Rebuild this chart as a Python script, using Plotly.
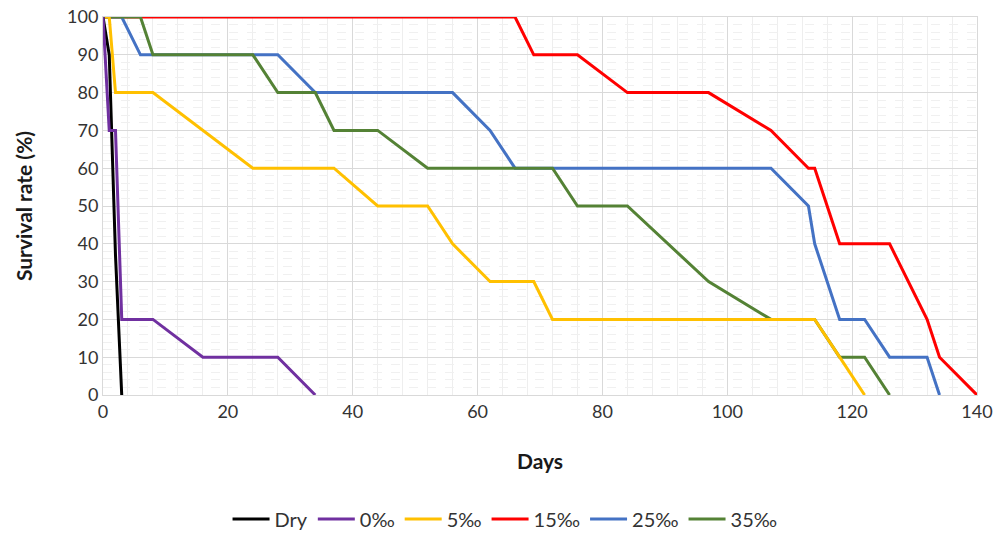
import plotly.graph_objects as go

# Data (days, survival %)
dry_days = [0, 1, 2, 3]
dry_vals = [100, 90, 37, 0]

s0_days = [0, 1, 2, 3, 8, 16, 28, 34]
s0_vals = [100, 70, 70, 20, 20, 10, 10, 0]

s5_days = [0, 1, 2, 8, 24, 37, 44, 52, 56, 62, 69, 72, 107, 114, 118, 122]
s5_vals = [100, 100, 80, 80, 60, 60, 50, 50, 40, 30, 30, 20, 20, 20, 10, 0]

s15_days = [0, 66, 69, 76, 84, 97, 107, 113, 114, 118, 126, 132, 134, 140]
s15_vals = [100, 100, 90, 90, 80, 80, 70, 60, 60, 40, 40, 20, 10, 0]

s25_days = [0, 3, 6, 28, 34, 56, 62, 66, 107, 113, 114, 118, 122, 126, 132, 134]
s25_vals = [100, 100, 90, 90, 80, 80, 70, 60, 60, 50, 40, 20, 20, 10, 10, 0]

s35_days = [0, 6, 8, 24, 28, 34, 37, 44, 52, 72, 76, 84, 97, 107, 114, 118, 122, 126]
s35_vals = [100, 100, 90, 90, 80, 80, 70, 70, 60, 60, 50, 50, 30, 20, 20, 10, 10, 0]

series = [
    ("Dry", dry_days, dry_vals, "#000000"),
    ("0‰", s0_days, s0_vals, "#7030A0"),
    ("5‰", s5_days, s5_vals, "#FFC000"),
    ("15‰", s15_days, s15_vals, "#FF0000"),
    ("25‰", s25_days, s25_vals, "#4472C4"),
    ("35‰", s35_days, s35_vals, "#548235"),
]

# draw order: black/purple on top near origin as in the reference
draw_order = ["15‰", "25‰", "35‰", "5‰", "Dry", "0‰"]
legend_rank = {name: i for i, (name, *_rest) in enumerate(series)}

fig = go.Figure()
lookup = {s[0]: s for s in series}
for name in draw_order:
    _, xs, ys, col = lookup[name]
    fig.add_trace(go.Scatter(
        x=xs, y=ys, mode="lines", name=name,
        line=dict(color=col, width=3),
        legendrank=legend_rank[name] + 1,
    ))

FONT = "Lato, 'Open Sans', Arial, sans-serif"

fig.update_layout(
    width=1002, height=534,
    margin=dict(l=103, r=25, t=17, b=139, autoexpand=False),
    paper_bgcolor="white", plot_bgcolor="white",
    font=dict(family=FONT, size=18, color="#333333"),
    showlegend=True,
    legend=dict(
        orientation="h", x=0.46, xanchor="center",
        yref="paper", y=-0.328, yanchor="middle",
        font=dict(size=20, color="#333333"),
        itemwidth=37, tracegroupgap=0,
    ),
)

fig.update_xaxes(
    range=[0, 140], dtick=20, tick0=0, automargin=False,
    showgrid=True, gridcolor="#d9d9d9", gridwidth=1,
    minor=dict(dtick=4, showgrid=True, gridcolor="#eeeeee", gridwidth=1),
    showline=True, linecolor="#d9d9d9", linewidth=1, mirror=True,
    zeroline=False, ticks="",
    tickfont=dict(size=18, color="#333333"),
    title=dict(text="<b>Days</b>", font=dict(size=21, color="#1a1a1a"), standoff=33),
)
fig.update_yaxes(
    range=[0, 100], dtick=10, tick0=0, automargin=False,
    showgrid=True, gridcolor="#d9d9d9", gridwidth=1,
    minor=dict(dtick=2, showgrid=True, gridcolor="#f0f0f0", gridwidth=1, griddash="dash"),
    showline=True, linecolor="#d9d9d9", linewidth=1, mirror=True,
    zeroline=False, ticks="",
    tickfont=dict(size=18, color="#333333"),
    title=dict(text="<b>Survival rate (%)</b>", font=dict(size=21, color="#1a1a1a"), standoff=28),
)

# remove the page's default body margin so the figure sits at the window origin
fig.write_html(
    "out.html",
    config={"displayModeBar": False},
    post_script="document.body.style.margin='0';",
)
